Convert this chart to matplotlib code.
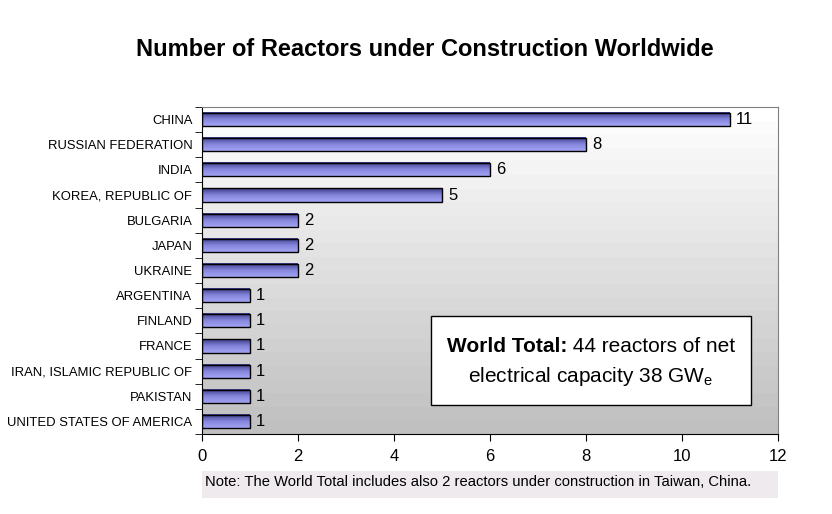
import numpy as np
import matplotlib.pyplot as plt
from matplotlib.colors import LinearSegmentedColormap

plt.rcParams['font.family'] = ['Liberation Sans', 'DejaVu Sans']
plt.rcParams['mathtext.fontset'] = 'custom'
plt.rcParams['mathtext.rm'] = 'Liberation Sans'

# Daten
countries = ['CHINA', 'RUSSIAN FEDERATION', 'INDIA', 'KOREA, REPUBLIC OF',
             'BULGARIA', 'JAPAN', 'UKRAINE', 'ARGENTINA', 'FINLAND', 'FRANCE',
             'IRAN, ISLAMIC REPUBLIC OF', 'PAKISTAN', 'UNITED STATES OF AMERICA']
reactors = [11, 8, 6, 5, 2, 2, 2, 1, 1, 1, 1, 1, 1]
x_ticks = [0, 2, 4, 6, 8, 10, 12]

fig = plt.figure(figsize=(8.32, 5.14), dpi=100)
ax = fig.add_axes([202 / 832, 80 / 514, 576 / 832, 327 / 514])

n = len(countries)
ypos = np.arange(n)

# Hintergrund: Verlauf von weiss (oben) nach grau (unten), in Stufen
bg = LinearSegmentedColormap.from_list('bg', ['#ffffff', '#c0c0c0'])
steps = np.linspace(0, 1, 24).reshape(-1, 1)
ax.imshow(steps, cmap=bg, aspect='auto', extent=[0, 12, n - 0.5, -0.5],
          zorder=0, interpolation='nearest')

# Balken mit vertikalem Farbverlauf
bar_cmap = LinearSegmentedColormap.from_list('bar', ['#a4a4f4', '#8484dc', '#3c3c88'])
grad = np.linspace(0, 1, 50).reshape(-1, 1)
bars = ax.barh(ypos, reactors, height=0.52, color='none', edgecolor='black',
               linewidth=1.0, zorder=3)
for b in bars:
    x0, y0 = b.get_x(), b.get_y()
    w, h = b.get_width(), b.get_height()
    ax.imshow(grad, cmap=bar_cmap, aspect='auto',
              extent=[x0, x0 + w, y0, y0 + h], zorder=2)
for i, v in enumerate(reactors):
    ax.text(v + 0.13, i, str(v), va='center', ha='left', fontsize=12, zorder=4)

ax.set_xlim(0, 12)
ax.set_ylim(n - 0.5, -0.5)
ax.set_xticks(x_ticks)
ax.set_xticklabels([str(t) for t in x_ticks], fontsize=12)
ax.set_yticks(ypos)
ax.set_yticklabels(countries, fontsize=9.4)
ax.set_yticks(np.arange(n + 1) - 0.5, minor=True)
ax.tick_params(axis='y', which='major', length=0, pad=7)
ax.tick_params(axis='y', which='minor', length=5, direction='out')
ax.tick_params(axis='x', length=5, direction='out', pad=6)

ax.spines['left'].set_color('black')
ax.spines['bottom'].set_color('black')
ax.spines['top'].set_color('#808080')
ax.spines['right'].set_color('#808080')

# Titel
fig.text(425 / 832, 1 - 50 / 514, 'Number of Reactors under Construction Worldwide',
         ha='center', va='center', fontsize=17, fontweight='bold')

# Kasten mit Gesamtzahl
box = plt.Rectangle((431 / 832, 1 - 405 / 514), 320 / 832, 89 / 514,
                    transform=fig.transFigure, facecolor='white',
                    edgecolor='black', linewidth=1, zorder=5)
fig.add_artist(box)

fs_box = 15
t_bold = fig.text(0, 1 - 347 / 514, 'World Total:', fontweight='bold',
                  ha='left', va='center', fontsize=fs_box, zorder=6)
t_rest = fig.text(0, 1 - 347 / 514, ' 44 reactors of net',
                  ha='left', va='center', fontsize=fs_box, zorder=6)
fig.canvas.draw()
r = fig.canvas.get_renderer()
w1 = t_bold.get_window_extent(r).width
w2 = t_rest.get_window_extent(r).width
start = 591 - (w1 + w2) / 2
t_bold.set_x(start / 832)
t_rest.set_x((start + w1) / 832)

fig.text(591 / 832, 1 - 377 / 514, r'electrical capacity 38 GW$_\mathrm{e}$',
         ha='center', va='center', fontsize=fs_box, zorder=6)

# Anmerkung unten
note = plt.Rectangle((202 / 832, 1 - 498 / 514), 576 / 832, 27 / 514,
                     transform=fig.transFigure, facecolor='#eeeaee',
                     edgecolor='none', zorder=1)
fig.add_artist(note)
fig.text(205 / 832, 1 - 482 / 514,
         'Note: The World Total includes also 2 reactors under construction in Taiwan, China.',
         ha='left', va='center', fontsize=10.6, zorder=2)

fig.savefig('out.png', dpi=100)
